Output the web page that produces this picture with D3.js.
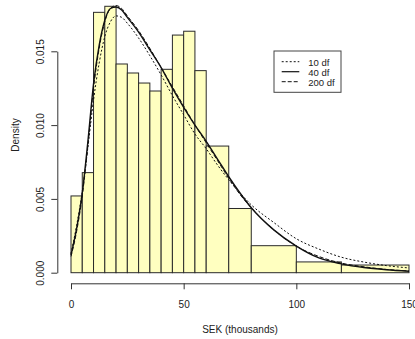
<!DOCTYPE html>
<html>
<head>
<meta charset="utf-8">
<script src="https://cdn.jsdelivr.net/npm/d3@7"></script>
<style>
  html, body { margin: 0; padding: 0; background: #fff; }
  svg { display: block; font-family: "Liberation Sans", Arial, Helvetica, sans-serif; }
</style>
</head>
<body>
<svg id="chart" width="415" height="339"></svg>
<script>
// ---- data ----
const breaks = [0, 5, 10, 15, 20, 25, 30, 35, 40, 45, 50, 55, 60, 70, 80, 100, 120, 150];
const densities = [0.0052, 0.00678, 0.01764, 0.01805, 0.01414, 0.01353, 0.01285, 0.01231,
                   0.01378, 0.0161, 0.01636, 0.01369, 0.00858, 0.00435, 0.00183, 0.00073, 0.00052];

const curveX = [0, 2.5, 5, 7.5, 10, 12.5, 15, 17.5, 20, 22.5, 25, 30, 35, 40, 45, 50, 55, 60,
                65, 70, 75, 80, 90, 100, 110, 120, 130, 140, 150];
const df10 = [0.0013, 0.0032, 0.0055, 0.0085, 0.0117, 0.0142, 0.0160, 0.0170, 0.0174, 0.0173, 0.0169,
              0.0159, 0.0147, 0.0134, 0.0120, 0.0107, 0.0094, 0.0084, 0.0073, 0.0063, 0.0054, 0.0046,
              0.0034, 0.0023, 0.0016, 0.00105, 0.00072, 0.00048, 0.00032];
const df40 = [0.0012, 0.0030, 0.0054, 0.0089, 0.0128, 0.0154, 0.0171, 0.0179, 0.0180, 0.0178, 0.0173,
              0.0163, 0.0151, 0.0139, 0.0125, 0.0112, 0.0100, 0.0089, 0.0077, 0.0065, 0.0054, 0.0044,
              0.0029, 0.0018, 0.0010, 0.0006, 0.00035, 0.0002, 0.0001];
const df200 = [0.0011, 0.0028, 0.0052, 0.0086, 0.0125, 0.0152, 0.0170, 0.0179, 0.0181, 0.0179, 0.0174,
               0.0164, 0.0152, 0.0139, 0.0126, 0.0113, 0.0100, 0.0088, 0.0076, 0.0064, 0.0053, 0.0044,
               0.0029, 0.0018, 0.0011, 0.00065, 0.0004, 0.00022, 0.00012];

const seriesNames = ["10 df", "40 df", "200 df"];
const seriesDash = ["2,2", null, "4,2"];
const xTicks = [0, 50, 100, 150];
const yTicks = [0, 0.005, 0.010, 0.015];
const xTitle = "SEK (thousands)";
const yTitle = "Density";

// ---- drawing ----
const svg = d3.select("#chart");
const x = d3.scaleLinear().domain([0, 150]).range([71, 409]);
const y = d3.scaleLinear().domain([0, 0.015]).range([272.7, 51.3]);

const bins = densities.map((d, i) => ({ x0: breaks[i], x1: breaks[i + 1], d }));

svg.append("g").selectAll("rect").data(bins).join("rect")
  .attr("x", b => x(b.x0))
  .attr("y", b => y(b.d))
  .attr("width", b => x(b.x1) - x(b.x0))
  .attr("height", b => y(0) - y(b.d))
  .attr("fill", "#ffffc0")
  .attr("stroke", "#2a2a2a")
  .attr("stroke-width", 1);

const line = d3.line().x(d => x(d[0])).y(d => y(d[1])).curve(d3.curveMonotoneX);
const series = [df10, df40, df200];
series.forEach((s, i) => {
  svg.append("path")
    .datum(curveX.map((xv, j) => [xv, s[j]]))
    .attr("d", line)
    .attr("fill", "none")
    .attr("stroke", "#111")
    .attr("stroke-width", i === 1 ? 1.4 : 1)
    .attr("stroke-dasharray", seriesDash[i]);
});

// x axis
const xAxis = svg.append("g")
  .attr("transform", "translate(0,283.3)")
  .call(d3.axisBottom(x).tickValues(xTicks).tickFormat(d3.format("d"))
        .tickSizeOuter(0).tickSizeInner(6).tickPadding(12));
xAxis.select(".domain").attr("stroke", "#333");
xAxis.selectAll(".tick line").attr("stroke", "#333");
xAxis.selectAll("text").attr("font-size", 10).attr("fill", "#222")
  .attr("font-family", "Liberation Sans, Arial, sans-serif");

// y axis
const yAxis = svg.append("g")
  .attr("transform", "translate(57.3,0)")
  .call(d3.axisLeft(y).tickValues(yTicks).tickFormat(d3.format(".3f"))
        .tickSizeOuter(0).tickSizeInner(6));
yAxis.select(".domain").attr("stroke", "#333");
yAxis.selectAll(".tick line").attr("stroke", "#333");
yAxis.selectAll("text")
  .attr("x", null).attr("dy", null)
  .attr("transform", "translate(-13,0) rotate(-90)")
  .attr("text-anchor", "middle")
  .attr("font-size", 10).attr("fill", "#222")
  .attr("font-family", "Liberation Sans, Arial, sans-serif");

// titles
svg.append("text").attr("x", 240).attr("y", 333)
  .attr("text-anchor", "middle").attr("font-size", 10).attr("fill", "#222")
  .text(xTitle);
svg.append("text").attr("transform", "translate(19,135) rotate(-90)")
  .attr("text-anchor", "middle").attr("font-size", 10).attr("fill", "#222")
  .text(yTitle);

// legend
const lg = svg.append("g");
lg.append("rect").attr("x", 274).attr("y", 51).attr("width", 67).attr("height", 41.3)
  .attr("fill", "#fff").attr("stroke", "#444").attr("stroke-width", 1);
seriesNames.forEach((name, i) => {
  const ly = 61.7 + i * 10;
  lg.append("line").attr("x1", 281.7).attr("x2", 299.3).attr("y1", ly).attr("y2", ly)
    .attr("stroke", "#111").attr("stroke-width", i === 1 ? 1.2 : 1)
    .attr("stroke-dasharray", seriesDash[i]);
  lg.append("text").attr("x", 308.3).attr("y", ly + 4.2)
    .attr("font-size", 9.5).attr("fill", "#222").text(name);
});
</script>
</body>
</html>
